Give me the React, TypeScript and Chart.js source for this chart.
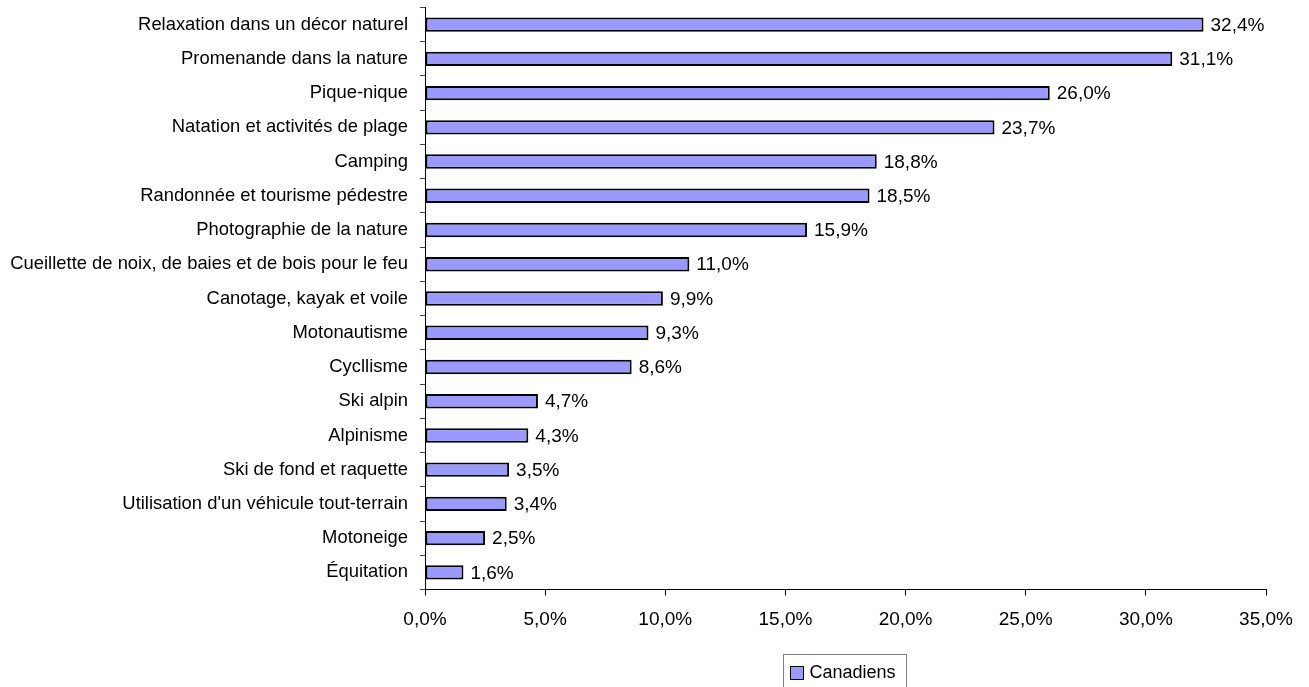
import React, { useEffect, useRef } from "react";
import { Chart, registerables } from "chart.js";

Chart.register(...registerables);

const categories = [
  "Relaxation dans un décor naturel",
  "Promenande dans la nature",
  "Pique-nique",
  "Natation et activités de plage",
  "Camping",
  "Randonnée et tourisme pédestre",
  "Photographie de la nature",
  "Cueillette de noix, de baies et de bois pour le feu",
  "Canotage, kayak et voile",
  "Motonautisme",
  "Cycllisme",
  "Ski alpin",
  "Alpinisme",
  "Ski de fond et raquette",
  "Utilisation d'un véhicule tout-terrain",
  "Motoneige",
  "Équitation",
];

const canadiens = [32.4, 31.1, 26.0, 23.7, 18.8, 18.5, 15.9, 11.0, 9.9, 9.3, 8.6, 4.7, 4.3, 3.5, 3.4, 2.5, 1.6];

const seriesName = "Canadiens";
const xMin = 0;
const xMax = 35;
const xStep = 5;

const FONT = "'Liberation Sans', Arial, sans-serif";
const BAR_COLOR = "#9999FF";

const fmt = (v: number) => v.toFixed(1).replace(".", ",") + "%";

export default function App() {
  const ref = useRef<HTMLCanvasElement | null>(null);

  useEffect(() => {
    if (!ref.current) return;

    const dataLabels = {
      id: "dataLabels",
      afterDatasetsDraw(chart: any) {
        const ctx = chart.ctx;
        const meta = chart.getDatasetMeta(0);
        ctx.save();
        ctx.font = `19px ${FONT}`;
        ctx.fillStyle = "#000";
        ctx.textAlign = "left";
        ctx.textBaseline = "middle";
        meta.data.forEach((bar: any, i: number) => {
          ctx.fillText(fmt(canadiens[i]), bar.x + 7, bar.y + 1);
        });
        ctx.restore();
      },
    };

    const boxLegend = {
      id: "boxLegend",
      afterDraw(chart: any) {
        const ctx = chart.ctx;
        const ca = chart.chartArea;
        const cx = (ca.left + ca.right) / 2;
        const w = 123;
        const left = Math.round(cx - w / 2) - 0.5;
        const top = 654.5;
        ctx.save();
        ctx.strokeStyle = "#808080";
        ctx.lineWidth = 1;
        ctx.strokeRect(left, top, w, 45);
        ctx.fillStyle = BAR_COLOR;
        ctx.fillRect(left + 7, 666.5, 13, 13);
        ctx.strokeStyle = "#000";
        ctx.strokeRect(left + 7, 666.5, 13, 13);
        ctx.font = `18px ${FONT}`;
        ctx.fillStyle = "#000";
        ctx.textAlign = "left";
        ctx.textBaseline = "middle";
        ctx.fillText(seriesName, left + 26, 673.5);
        ctx.restore();
      },
    };

    const chart = new Chart(ref.current, {
      type: "bar",
      data: {
        labels: categories,
        datasets: [
          {
            label: seriesName,
            data: canadiens,
            backgroundColor: BAR_COLOR,
            borderColor: "#000",
            borderWidth: 2,
            borderSkipped: false,
            barPercentage: 0.42,
            categoryPercentage: 1,
          },
        ],
      },
      options: {
        indexAxis: "y",
        animation: false,
        responsive: true,
        maintainAspectRatio: false,
        layout: { padding: { left: 0, right: 43, top: 7.5, bottom: 0 } },
        plugins: {
          legend: { display: false },
          tooltip: { enabled: false },
        },
        scales: {
          x: {
            min: xMin,
            max: xMax,
            afterFit: (s: any) => {
              s.height = 97.5;
              s.paddingLeft = 0;
              s.paddingRight = 0;
            },
            ticks: {
              stepSize: xStep,
              callback: (v: any) => fmt(Number(v)),
              color: "#000",
              font: { family: FONT, size: 19 },
              padding: 13,
              maxRotation: 0,
            },
            grid: {
              drawOnChartArea: false,
              drawTicks: true,
              tickLength: 6,
              color: "#000",
            },
            border: { color: "#000", width: 1 },
          },
          y: {
            afterFit: (s: any) => {
              s.width = 425;
              s.paddingTop = 0;
              s.paddingBottom = 0;
            },
            ticks: {
              color: "#000",
              font: { family: FONT, size: 18.4 },
              padding: 12,
              autoSkip: false,
            },
            grid: {
              drawOnChartArea: false,
              drawTicks: true,
              tickLength: 5,
              color: "#404040",
            },
            border: { color: "#000", width: 1 },
          },
        },
      },
      plugins: [dataLabels, boxLegend],
    });

    return () => chart.destroy();
  }, []);

  return (
    <div style={{ position: "absolute", left: 0, top: 0, width: 1309, height: 687, background: "#fff" }}>
      <canvas ref={ref} />
    </div>
  );
}
